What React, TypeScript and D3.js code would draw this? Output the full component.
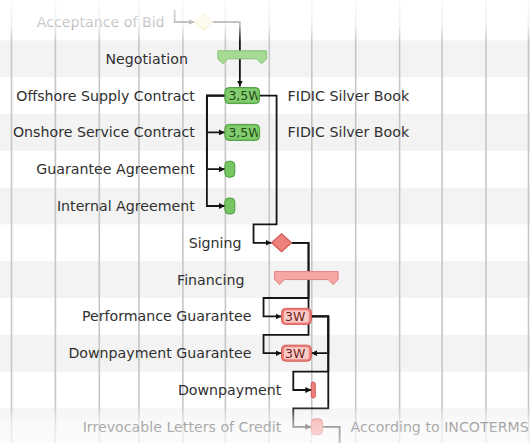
import { useEffect, useRef } from 'react'
import * as d3 from 'd3'

// tasks, top to bottom
const taskNames = [
  'Acceptance of Bid',
  'Negotiation',
  'Offshore Supply Contract',
  'Onshore Service Contract',
  'Guarantee Agreement',
  'Internal Agreement',
  'Signing',
  'Financing',
  'Performance Guarantee',
  'Downpayment Guarantee',
  'Downpayment',
  'Irrevocable Letters of Credit',
]
const taskKinds = ['milestone', 'summary', 'task', 'task', 'task', 'task', 'milestone', 'summary', 'task', 'task', 'task', 'task']
const taskColors = ['yellow', 'green', 'green', 'green', 'green', 'green', 'red', 'red', 'red', 'red', 'red', 'red']
const taskStarts = ['2010-04-16', '2010-05-01', '2010-05-01', '2010-05-01', '2010-05-01', '2010-05-01', '2010-06-10', '2010-06-10', '2010-06-10', '2010-06-10', '2010-07-01', '2010-07-01']
// duration in days
const taskDays = [0, 24.5, 24.5, 24.5, 7, 7, 0, 35, 21, 21, 2, 8]
const taskLabels = ['', '', '3,5W', '3,5W', '', '', '', '', '3W', '3W', '', '']
const taskNotes = ['', '', 'FIDIC Silver Book', 'FIDIC Silver Book', '', '', '', '', '', '', '', 'According to INCOTERMS']

// dependencies: [from, to, type]  (FSd = finish-to-start dropping onto the bar top)
const links: [number, number, string][] = [
  [0, 2, 'FSd'],
  [2, 3, 'SS'],
  [2, 4, 'SS'],
  [2, 5, 'SS'],
  [2, 6, 'FS'],
  [6, 8, 'FS'],
  [6, 9, 'FS'],
  [8, 9, 'FF'],
  [8, 10, 'FS'],
  [8, 11, 'FS'],
]
// links that leave the visible window
const linkInFromAbove = [0]
const linkOutBelow = [11]

const palette: Record<string, any> = {
  yellow: { fill: '#fbefbd', stroke: '#ecd98f', sum: '#fbefbd', label: '#fff7d8', text: '#6b5a10' },
  green: { fill: '#76c663', stroke: '#4d9a3f', sum: '#a5db95', sumStroke: '#82c173', label: '#84cd71', text: '#1f4a16' },
  red: { fill: '#ef817c', stroke: '#d35a55', sum: '#f6a6a3', sumStroke: '#e2827f', label: '#f9cbc7', text: '#6e1e1a' },
}

export default function App() {
  const ref = useRef<SVGSVGElement | null>(null)
  const W = 530
  const H = 443

  useEffect(() => {
    const svg = d3.select(ref.current)
    svg.selectAll('*').remove()
    document.body.style.margin = '0'

    const parse = d3.timeParse('%Y-%m-%d')
    const x = d3
      .scaleTime()
      .domain([parse('2009-12-01')!, parse('2010-12-01')!])
      .range([11, 528])
    const y = d3
      .scaleBand()
      .domain(taskNames)
      .range([3.6, 3.6 + taskNames.length * 36.8])
      .paddingInner(0)
    const rowH = y.bandwidth()
    const cy = (i: number) => y(taskNames[i])! + rowH / 2

    const tasks = taskNames.map((name, i) => {
      const s = parse(taskStarts[i])!
      const e = d3.timeHour.offset(s, Math.round(taskDays[i] * 24))
      const kind = taskKinds[i]
      let left = x(s)
      let right = x(e)
      if (kind === 'milestone') {
        const hw = i === 0 ? 9 : 10
        right = left + hw
        left = left - hw
      } else if (kind === 'summary') {
        left -= 7
        right += 7
      } else if (right - left < 4) {
        right = left + 4
      }
      return { name, i, kind, cx: x(s), left, right, y: cy(i), col: palette[taskColors[i]] }
    })

    const defs = svg.append('defs')
    defs
      .append('marker')
      .attr('id', 'arr')
      .attr('viewBox', '0 0 10 10')
      .attr('refX', 10)
      .attr('refY', 5)
      .attr('markerWidth', 6)
      .attr('markerHeight', 6)
      .attr('markerUnits', 'userSpaceOnUse')
      .attr('orient', 'auto')
      .append('path')
      .attr('d', 'M0,0 L10,5 L0,10 Z')
      .attr('fill', '#111')

    const fadeTop = defs.append('linearGradient').attr('id', 'fadeTop').attr('x1', 0).attr('x2', 0).attr('y1', 0).attr('y2', 1)
    fadeTop.append('stop').attr('offset', '0%').attr('stop-color', '#fff').attr('stop-opacity', 0.9)
    fadeTop.append('stop').attr('offset', '60%').attr('stop-color', '#fff').attr('stop-opacity', 0.72)
    fadeTop.append('stop').attr('offset', '100%').attr('stop-color', '#fff').attr('stop-opacity', 0)
    const fadeBot = defs.append('linearGradient').attr('id', 'fadeBot').attr('x1', 0).attr('x2', 0).attr('y1', 0).attr('y2', 1)
    fadeBot.append('stop').attr('offset', '0%').attr('stop-color', '#fff').attr('stop-opacity', 0)
    fadeBot.append('stop').attr('offset', '45%').attr('stop-color', '#fff').attr('stop-opacity', 0.55)
    fadeBot.append('stop').attr('offset', '100%').attr('stop-color', '#fff').attr('stop-opacity', 0.7)

    // background
    svg.append('rect').attr('width', W).attr('height', H).attr('fill', '#fff')
    svg
      .append('g')
      .selectAll('rect')
      .data(taskNames.filter((_, i) => i % 2 === 1))
      .enter()
      .append('rect')
      .attr('x', 0)
      .attr('width', W)
      .attr('y', (d) => y(d)!)
      .attr('height', rowH)
      .attr('fill', '#f3f3f3')

    // month grid
    svg
      .append('g')
      .selectAll('line')
      .data(x.ticks(d3.timeMonth.every(1)!))
      .enter()
      .append('line')
      .attr('x1', (d) => x(d) + 0.5)
      .attr('x2', (d) => x(d) + 0.5)
      .attr('y1', 0)
      .attr('y2', H)
      .attr('stroke', '#c6c6c6')
      .attr('stroke-width', 1.6)

    // dependency lines
    const paths: { pts: [number, number][] }[] = []
    links.forEach(([a, b, type]) => {
      const A = tasks[a]
      const B = tasks[b]
      if (type === 'SS') {
        const lx = A.left - 18
        paths.push({ pts: [[A.left, A.y], [lx, A.y], [lx, B.y], [B.left, B.y]] })
      } else if (type === 'FF') {
        const rx = A.right + 17
        paths.push({ pts: [[A.right, A.y], [rx, A.y], [rx, B.y], [B.right, B.y]] })
      } else if (type === 'FSd') {
        const dx = B.left + 15
        paths.push({ pts: [[A.right, A.y], [dx, A.y], [dx, B.y - 9]] })
      } else {
        const rx = A.right + 17
        const top = y(B.name)!
        const lx = B.left - 18
        paths.push({ pts: [[A.right, A.y], [rx, A.y], [rx, top], [lx, top], [lx, B.y], [B.left, B.y]] })
      }
    })
    linkInFromAbove.forEach((b) => {
      const B = tasks[b]
      const lx = B.left - 20
      paths.push({ pts: [[lx, B.y - 12], [lx, B.y], [B.left, B.y]] })
    })
    const line = d3.line()
    const linkG = svg.append('g')
    linkG
      .selectAll('path')
      .data(paths)
      .enter()
      .append('path')
      .attr('d', (d) => line(d.pts))
      .attr('fill', 'none')
      .attr('stroke', '#151515')
      .attr('stroke-width', 1.8)
      .attr('marker-end', 'url(#arr)')
    linkOutBelow.forEach((a) => {
      const A = tasks[a]
      const rx = A.right + 17
      linkG
        .append('path')
        .attr('d', line([[A.right, A.y], [rx, A.y], [rx, H + 10]]))
        .attr('fill', 'none')
        .attr('stroke', '#151515')
        .attr('stroke-width', 1.8)
    })

    // bars
    const barG = svg.append('g')
    tasks.forEach((t) => {
      const c = t.col
      if (t.kind === 'milestone') {
        const hw = (t.right - t.left) / 2
        const hh = hw - 1
        barG
          .append('path')
          .attr('d', `M${t.cx},${t.y - hh} L${t.cx + hw},${t.y} L${t.cx},${t.y + hh} L${t.cx - hw},${t.y} Z`)
          .attr('fill', c.fill)
          .attr('stroke', c.stroke)
          .attr('stroke-width', 1.2)
      } else if (t.kind === 'summary') {
        const top = t.y - 8
        const x0 = t.left
        const x1 = t.right
        barG
          .append('path')
          .attr(
            'd',
            `M${x0},${top} H${x1} V${top + 8} L${x1 - 5},${top + 13} L${x1 - 10},${top + 8} H${x0 + 10} L${x0 + 5},${top + 13} L${x0},${top + 8} Z`,
          )
          .attr('fill', c.sum)
          .attr('stroke', c.sumStroke)
          .attr('stroke-width', 1)
          .attr('stroke-linejoin', 'round')
      } else {
        const w = t.right - t.left
        barG
          .append('rect')
          .attr('x', t.left)
          .attr('y', t.y - 8)
          .attr('width', w)
          .attr('height', 16)
          .attr('rx', Math.min(4, w / 2))
          .attr('fill', c.fill)
          .attr('stroke', c.stroke)
          .attr('stroke-width', 1)
        if (taskLabels[t.i]) {
          const clipId = `clip${t.i}`
          defs
            .append('clipPath')
            .attr('id', clipId)
            .append('rect')
            .attr('x', t.left + 2)
            .attr('y', t.y - 7)
            .attr('width', w - 4)
            .attr('height', 14)
          barG
            .append('rect')
            .attr('x', t.left + 2.5)
            .attr('y', t.y - 6)
            .attr('width', w - 5)
            .attr('height', 12)
            .attr('rx', 2)
            .attr('fill', c.label)
          barG
            .append('text')
            .attr('clip-path', `url(#${clipId})`)
            .attr('x', t.left + 3.5)
            .attr('y', t.y + 4.5)
            .attr('font-family', 'DejaVu Sans, sans-serif')
            .attr('font-size', 12.5)
            .attr('fill', c.text)
            .text(taskLabels[t.i])
        }
      }
    })

    // row labels and notes
    const textG = svg.append('g').attr('font-family', 'DejaVu Sans, sans-serif').attr('font-size', 14.2).attr('fill', '#303030')
    textG
      .selectAll('text.name')
      .data(tasks)
      .enter()
      .append('text')
      .attr('class', 'name')
      .attr('x', (d) => d.left - 30)
      .attr('y', (d) => d.y + 5)
      .attr('text-anchor', 'end')
      .text((d) => d.name)
    textG
      .selectAll('text.note')
      .data(tasks.filter((d) => taskNotes[d.i]))
      .enter()
      .append('text')
      .attr('class', 'note')
      .attr('x', (d) => d.right + 28)
      .attr('y', (d) => d.y + 5)
      .text((d) => taskNotes[d.i])

    // faded edges
    svg.append('rect').attr('x', 0).attr('y', 0).attr('width', W).attr('height', 42).attr('fill', 'url(#fadeTop)')
    svg.append('rect').attr('x', 0).attr('y', 405).attr('width', W).attr('height', 38).attr('fill', 'url(#fadeBot)')
  }, [])

  return <svg width={W} height={H} ref={ref} style={{ position: 'absolute', left: 0, top: 0, display: 'block' }} />
}
